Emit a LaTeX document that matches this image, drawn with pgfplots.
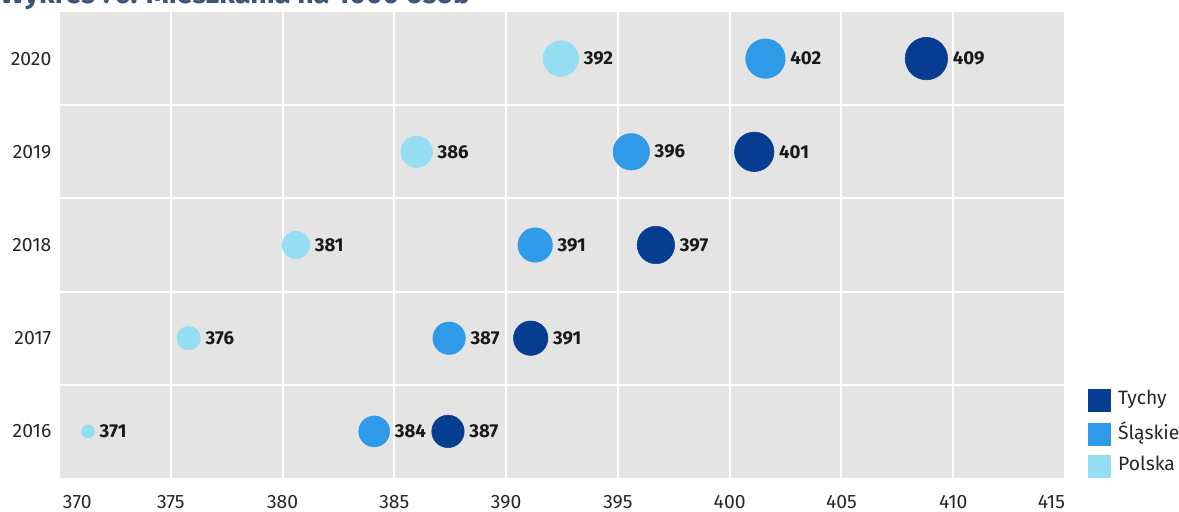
\documentclass[border=0pt]{standalone}
\usepackage{fontspec}
\setmainfont{Fira Sans}
\usepackage{pgfplots}
\pgfplotsset{compat=1.18}
\definecolor{cTy}{HTML}{063D91}
\definecolor{cSl}{HTML}{2F9BE8}
\definecolor{cPl}{HTML}{95DDF0}
\definecolor{bgc}{HTML}{E4E4E4}
\definecolor{ttl}{HTML}{3A5777}

% one bubble: x value, year, radius (pt), label, colour
\newcommand\bub[5]{%
  \addplot[only marks, mark=*, mark size=#3pt-0.2pt, forget plot, color=#5,
    mark options={draw=#5, fill=#5},
    point meta=explicit symbolic, nodes near coords,
    nodes near coords style={anchor=west, inner sep=0pt, xshift=#3pt+3.5pt,
      font=\bfseries\fontsize{14}{16}\selectfont, text=black!90}]
    coordinates {(#1,#2) [#4]};}

\begin{document}
\begin{tikzpicture}
\path[use as bounding box] (-44.25pt,-24.75pt) rectangle (840pt,358.5pt);
\node[anchor=base west, inner sep=0pt, text=ttl] at (-44.25pt,355.5pt)
  {\resizebox{352.5pt}{!}{\bfseries Wykres 76. Mieszkania na 1000 osób}};
\begin{axis}[
  at={(0,0)}, anchor=south west, scale only axis,
  width=754.5pt, height=349.5pt,
  xmin=370, xmax=415, ymin=2015.5, ymax=2020.5,
  axis background/.style={fill=bgc},
  axis line style={draw=none},
  major tick length=0pt, minor tick length=0pt,
  xtick={370,375,...,415},
  xticklabels={\rlap{\hspace{3pt}370},375,380,385,390,395,400,405,410,\llap{415}},
  ytick={2016,2017,2018,2019,2020},
  yticklabels={2016,2017,2018,2019,2020},
  minor ytick={2016.5,2017.5,2018.5,2019.5},
  xmajorgrids, yminorgrids,
  major grid style={white, line width=1.5pt},
  minor grid style={white, line width=1.5pt},
  tick label style={font=\fontsize{14.5}{17}\selectfont, text=black!85},
  xticklabel style={inner sep=0pt, yshift=-12.5pt},
  yticklabel style={xshift=-2.25pt},
  legend style={draw=none, fill=none, inner sep=0pt,
    at={(axis description cs:1,0)}, anchor=south west,
    xshift=17.25pt, yshift=0pt, row sep=5.75pt,
    font=\fontsize{14.5}{17}\selectfont, text=black!85,
    nodes={inner sep=2pt}},
  legend cell align=left,
  clip=false,
]
% Tychy
\bub{387.4}{2016}{12.375}{387}{cTy}
\bub{391.1}{2017}{13.125}{391}{cTy}
\bub{396.7}{2018}{14.25}{397}{cTy}
\bub{401.1}{2019}{15}{401}{cTy}
\bub{408.8}{2020}{16.125}{409}{cTy}
% Slaskie
\bub{384.1}{2016}{11.8}{384}{cSl}
\bub{387.45}{2017}{12.375}{387}{cSl}
\bub{391.3}{2018}{13.125}{391}{cSl}
\bub{395.6}{2019}{13.875}{396}{cSl}
\bub{401.6}{2020}{15}{402}{cSl}
% Polska
\bub{371.3}{2016}{5.06}{371}{cPl}
\bub{375.8}{2017}{9}{376}{cPl}
\bub{380.6}{2018}{10.5}{381}{cPl}
\bub{386.0}{2019}{12}{386}{cPl}
\bub{392.45}{2020}{13.5}{392}{cPl}
\addlegendimage{legend image code/.code={\fill[cTy] (0pt,-10pt) rectangle (16.5pt,6.5pt); \path (20pt,0pt);}}
\addlegendentry{Tychy}
\addlegendimage{legend image code/.code={\fill[cSl] (0pt,-10pt) rectangle (16.5pt,6.5pt); \path (20pt,0pt);}}
\addlegendentry{Śląskie}
\addlegendimage{legend image code/.code={\fill[cPl] (0pt,-10pt) rectangle (16.5pt,6.5pt); \path (20pt,0pt);}}
\addlegendentry{Polska}
\end{axis}
\end{tikzpicture}
\end{document}
